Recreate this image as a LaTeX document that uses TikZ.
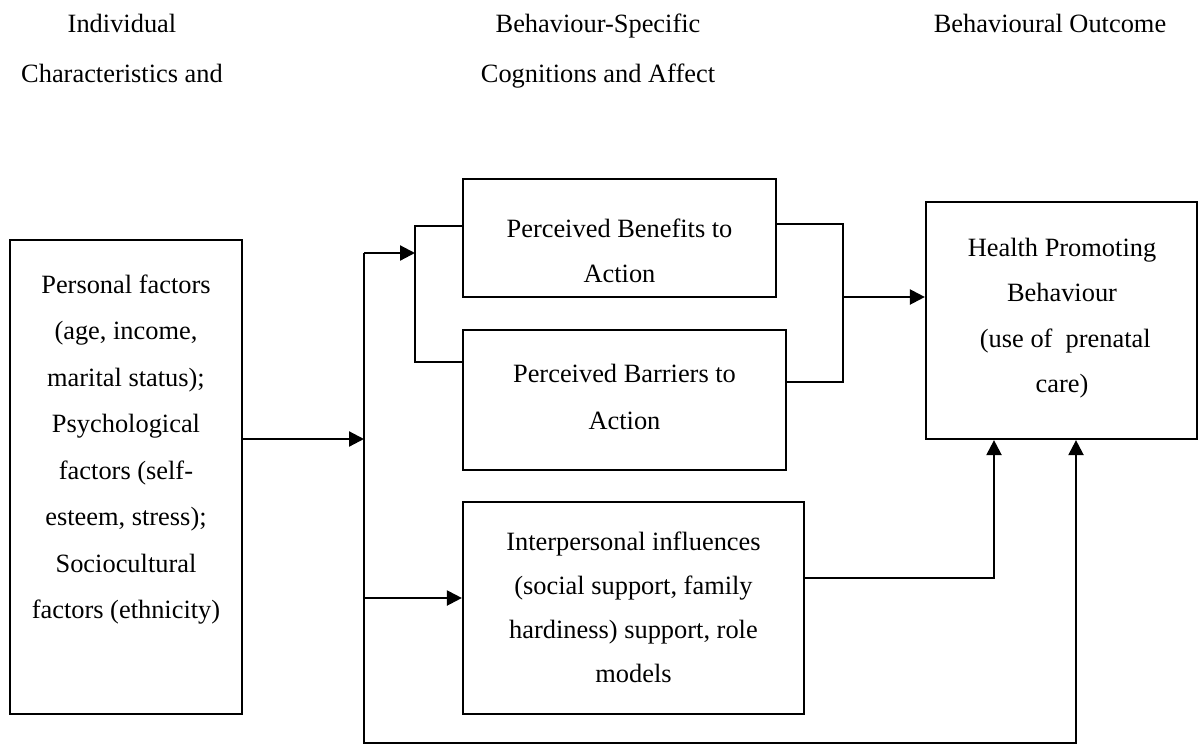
\documentclass[tikz,border=0pt]{standalone}
\usepackage{fontspec}
\setmainfont{Liberation Serif}
\usetikzlibrary{arrows.meta}

\begin{document}
\begin{tikzpicture}[x=1pt, y=-1pt, line width=2.2pt,
  blk/.style={draw, inner sep=0pt},
  lbl/.style={inner sep=0pt, anchor=base, font=\fontsize{26.4}{45.5}\selectfont},
  hdr/.style={lbl, font=\fontsize{26.4}{50}\selectfont},
  arr/.style={-{Triangle[length=15pt, width=15pt]}}]
\newcommand{\boxlines}[2]{\parbox[t]{#1}{\centering #2}}; % centred lines, baseline on first

\useasboundingbox (0,0) rectangle (1201,744);

% column headings
\node[hdr] (hdrind) at (122,32) {\boxlines{260pt}{Individual\\Characteristics and}};
\node[hdr] (hdrcog) at (598,32) {\boxlines{300pt}{Behaviour-Specific\\Cognitions and Affect}};
\node[hdr] (hdrout) at (1050,32) {Behavioural Outcome};

% boxes
\node[blk, minimum width=232pt, minimum height=474pt] (personal) at (126,477) {};
\node[lbl, font=\fontsize{26.4}{46.5}\selectfont] (personaltxt) at (126,293)
  {\boxlines{230pt}{Personal factors\\(age, income,\\marital status);\\Psychological\\factors (self-\\esteem, stress);\\Sociocultural\\factors (ethnicity)}};

\node[blk, minimum width=313pt, minimum height=118pt] (benefits) at (619.5,238) {};
\node[lbl] (benefitstxt) at (619.5,237) {\boxlines{300pt}{Perceived Benefits to\\Action}};

\node[blk, minimum width=323pt, minimum height=140pt] (barriers) at (624.5,400) {};
\node[lbl, font=\fontsize{26.4}{47}\selectfont] (barrierstxt) at (624.5,382) {\boxlines{300pt}{Perceived Barriers to\\Action}};

\node[blk, minimum width=341pt, minimum height=212pt] (interp) at (633.5,608) {};
\node[lbl, font=\fontsize{26.4}{44}\selectfont] (interptxt) at (633.5,550)
  {\boxlines{330pt}{Interpersonal influences\\(social support, family\\hardiness) support, role\\models}};

\node[blk, minimum width=271pt, minimum height=237pt] (health) at (1061.5,320.5) {};
\node[lbl] (healthtxt) at (1062,256)
  {\boxlines{260pt}{Health Promoting\\Behaviour\\~(use of~~prenatal\\care)}};

% junction points
\coordinate (hub) at (364,439);
\coordinate (tp)  at (364,253);
\coordinate (mid) at (364,598);
\coordinate (bt)  at (364,743);
\coordinate (bl1) at (415,226);
\coordinate (bl2) at (415,362);
\coordinate (br1) at (843,224);
\coordinate (br2) at (843,382);
\coordinate (bm)  at (843,297);
\coordinate (ih)  at (994,578);
\coordinate (hb)  at (1076,743);

% connectors
\draw[arr] (hub -| personal.east) -- (hub);
\draw[arr] (tp) -- (tp -| bl1);
\draw (bl1 -| benefits.west) -- (bl1) -- (bl2) -- (bl2 -| barriers.west);
\draw[arr] (mid) -- (mid -| interp.west);
\draw (br1 -| benefits.east) -- (br1) -- (br2) -- (br2 -| barriers.east);
\draw[arr] (bm) -- (bm -| health.west);
\draw[arr] (ih -| interp.east) -- (ih) -- (ih |- health.south);
\draw[arr] (tp) -- (bt) -- (hb) -- (hb |- health.south);
\end{tikzpicture}
\end{document}
